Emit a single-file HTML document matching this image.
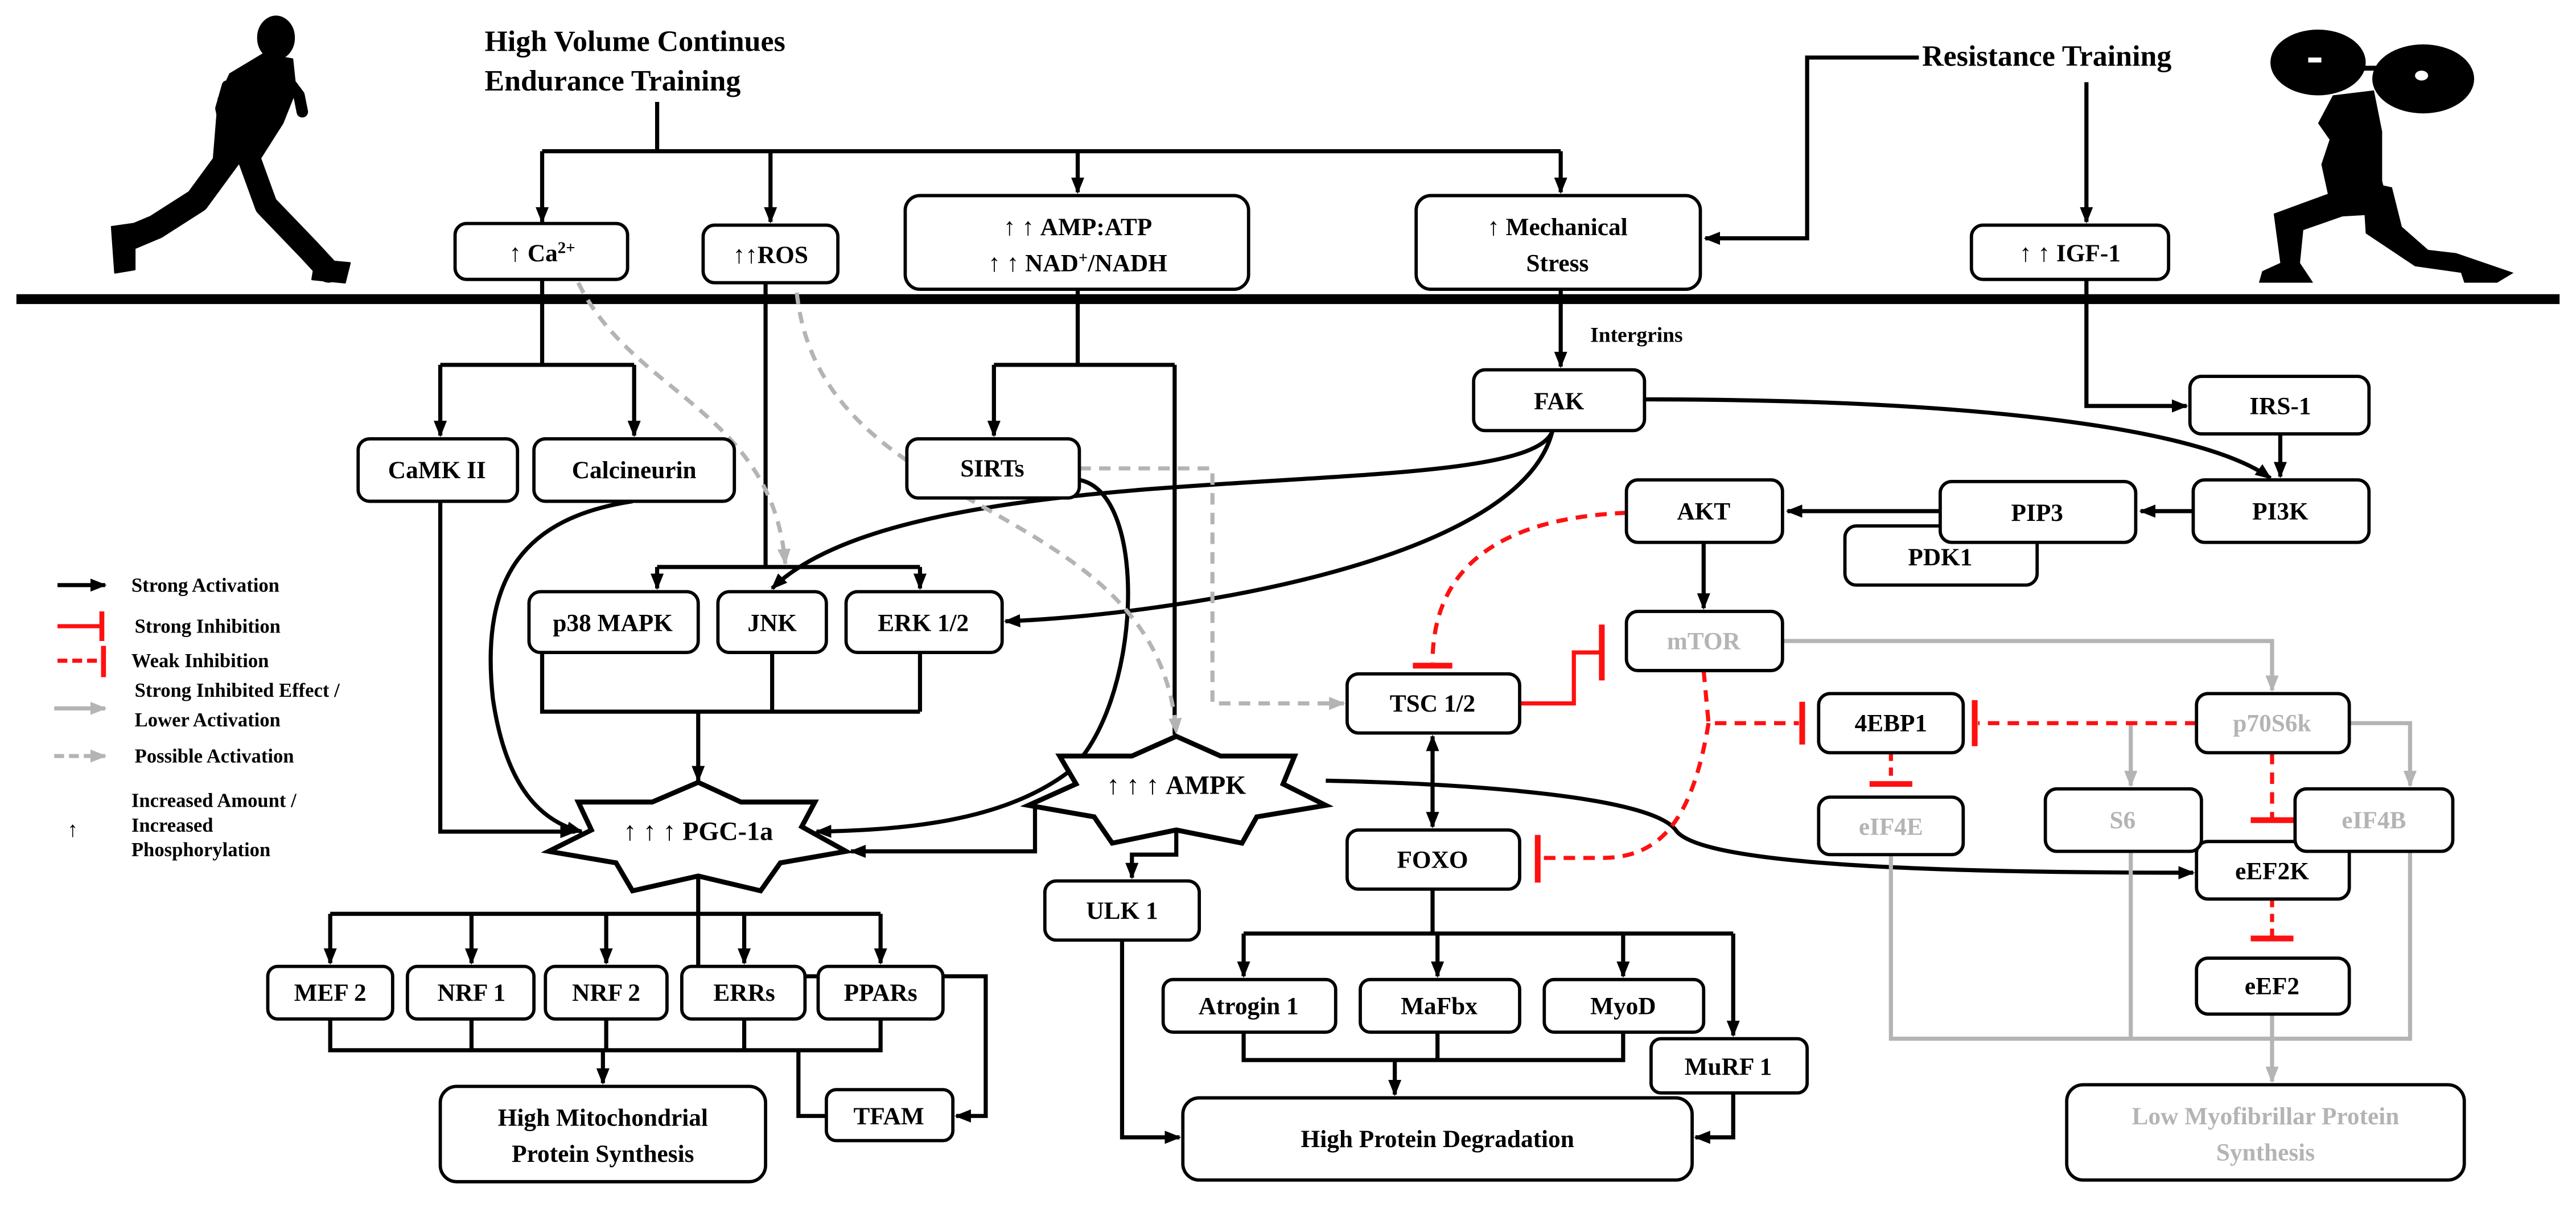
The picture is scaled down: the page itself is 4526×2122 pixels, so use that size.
<!DOCTYPE html>
<html><head><meta charset="utf-8"><style>
html,body{margin:0;padding:0;background:#fff;}
svg{display:block;}
text{font-family:"Liberation Serif",serif;font-weight:bold;}
</style></head><body>
<svg width="4526" height="2122" viewBox="0 0 1568 735" preserveAspectRatio="none" xmlns="http://www.w3.org/2000/svg">
<defs>
<marker id="a" markerUnits="userSpaceOnUse" markerWidth="10" markerHeight="10" refX="9" refY="5" orient="auto"><path d="M0,1 L10,5 L0,9 z" fill="#000"/></marker>
<marker id="g" markerUnits="userSpaceOnUse" markerWidth="10" markerHeight="10" refX="9" refY="5" orient="auto"><path d="M0,1 L10,5 L0,9 z" fill="#b4b4b4"/></marker>
</defs>
<rect width="1568" height="735" fill="#fff"/>

<!-- runner silhouette -->
<g fill="#000" stroke="#000" stroke-linecap="round" stroke-linejoin="round">
<ellipse cx="168" cy="23" rx="11" ry="13"/>
<polygon points="160,33 178,36 180,55 172,75 158,97 130,97 133,60 140,45"/>
<polyline points="138,52 134,66 137,80" fill="none" stroke-width="6"/>
<polyline points="176,50 182,58 184,68" fill="none" stroke-width="7"/>
<polyline points="142,92 120,122 95,138 76,146" fill="none" stroke-width="15"/>
<polyline points="150,92 162,125 188,152 200,165" fill="none" stroke-width="14"/>
<polygon points="68,138 82,136 82,164 70,166"/>
<polygon points="192,158 213,160 210,172 190,170"/>
</g>

<!-- weightlifter silhouette -->
<g fill="#000">
<ellipse cx="1411" cy="38" rx="29" ry="20"/>
<ellipse cx="1475" cy="48" rx="31" ry="21"/>
<ellipse cx="1474" cy="46" rx="4" ry="3" fill="#fff"/>
<rect x="1405" y="35" width="8" height="3" fill="#fff"/>
<rect x="1435" y="40" width="20" height="3"/>
<polygon points="1420,58 1445,55 1450,80 1450,110 1455,130 1420,132 1413,100 1418,85 1411,75"/>
<polygon points="1425,115 1445,125 1402,140 1400,160 1408,172 1375,172 1377,165 1388,160 1384,130"/>
<polygon points="1438,110 1456,114 1462,138 1478,152 1495,154 1530,166 1520,172 1500,172 1498,166 1470,162 1440,142"/>
</g>

<!-- membrane line -->
<rect x="10" y="179" width="1548" height="6" fill="#000"/>

<text x="295" y="31" font-size="18">High Volume Continues</text>
<text x="295" y="55" font-size="18">Endurance Training</text>
<text x="1170" y="40" font-size="18">Resistance Training</text>
<text x="968" y="208" font-size="13">Intergrins</text>

<g fill="none" stroke="#000" stroke-width="2.5">
<path d="M400,62 L400,92"/>
<path d="M330,92 L950,92"/>
<path d="M330,92 L330,135" marker-end="url(#a)"/>
<path d="M469,92 L469,135" marker-end="url(#a)"/>
<path d="M656,92 L656,117" marker-end="url(#a)"/>
<path d="M950,92 L950,117" marker-end="url(#a)"/>
<path d="M1168,35 L1100,35 L1100,145 L1038,145" marker-end="url(#a)"/>
<path d="M1270,50 L1270,135" marker-end="url(#a)"/>
<path d="M1270,170 L1270,247 L1331,247" marker-end="url(#a)"/>
<path d="M1388,264 L1388,290" marker-end="url(#a)"/>
<path d="M1335,311 L1303,311" marker-end="url(#a)"/>
<path d="M1181,311 L1088,311" marker-end="url(#a)"/>
<path d="M1037,330 L1037,370" marker-end="url(#a)"/>
<path d="M950,176 L950,223" marker-end="url(#a)"/>
<path d="M1001,243 C1200,243 1340,260 1382,291" marker-end="url(#a)"/>
<path d="M945,262 C930,310 560,270 470,358" marker-end="url(#a)"/>
<path d="M945,262 C925,345 700,375 612,378" marker-end="url(#a)"/>
<path d="M330,170 L330,222"/>
<path d="M268,222 L386,222"/>
<path d="M268,222 L268,265" marker-end="url(#a)"/>
<path d="M386,222 L386,265" marker-end="url(#a)"/>
<path d="M268,305 L268,506 L350,506" marker-end="url(#a)"/>
<path d="M385,305 C320,315 292,350 300,425 C308,480 330,500 354,506" marker-end="url(#a)"/>
<path d="M466,172 L466,345"/>
<path d="M400,345 L560,345"/>
<path d="M400,345 L400,358" marker-end="url(#a)"/>
<path d="M560,345 L560,358" marker-end="url(#a)"/>
<path d="M322,378 L330,378 L330,433 L560,433"/>
<path d="M470,397 L470,433"/>
<path d="M560,397 L560,433"/>
<path d="M425,433 L425,475" marker-end="url(#a)"/>
<path d="M656,176 L656,222"/>
<path d="M605,222 L715,222"/>
<path d="M605,222 L605,265" marker-end="url(#a)"/>
<path d="M715,222 L715,447"/>
<path d="M657,292 C700,300 695,430 650,470 C610,500 550,505 497,506" marker-end="url(#a)"/>
<path d="M630,490 L630,518 L518,518" marker-end="url(#a)"/>
<path d="M716,505 L716,520 L689,520 L689,534" marker-end="url(#a)"/>
<path d="M807,475 C900,477 1005,485 1020,505 C1035,528 1200,531 1335,531" marker-end="url(#a)"/>
<path d="M683,572 L683,692 L718,692" marker-end="url(#a)"/>
<path d="M425,524 L425,594 L600,594 L600,679 L582,679" marker-end="url(#a)"/>
<path d="M201,556 L536,556"/>
<path d="M201,556 L201,586" marker-end="url(#a)"/>
<path d="M287,556 L287,586" marker-end="url(#a)"/>
<path d="M369,556 L369,586" marker-end="url(#a)"/>
<path d="M453,556 L453,586" marker-end="url(#a)"/>
<path d="M536,556 L536,586" marker-end="url(#a)"/>
<path d="M201,620 L201,639 L536,639 L536,620"/>
<path d="M287,620 L287,639"/><path d="M369,620 L369,639"/><path d="M453,620 L453,639"/>
<path d="M367,639 L367,659" marker-end="url(#a)"/>
<path d="M486,639 L486,679 L503,679"/>
<path d="M872,470 L872,448" marker-end="url(#a)"/>
<path d="M872,470 L872,503" marker-end="url(#a)"/>
<path d="M872,541 L872,568"/>
<path d="M757,568 L1055,568"/>
<path d="M757,568 L757,594" marker-end="url(#a)"/>
<path d="M875,568 L875,594" marker-end="url(#a)"/>
<path d="M988,568 L988,594" marker-end="url(#a)"/>
<path d="M1055,568 L1055,630" marker-end="url(#a)"/>
<path d="M757,628 L757,645 L988,645 L988,628"/>
<path d="M875,628 L875,645"/>
<path d="M849,645 L849,666" marker-end="url(#a)"/>
<path d="M1055,665 L1055,692 L1032,692" marker-end="url(#a)"/>
</g>

<g fill="none" stroke="#b4b4b4" stroke-width="2.5" stroke-dasharray="7,5">
<path d="M352,172 C385,240 470,250 478,343" marker-end="url(#g)"/>
<path d="M485,178 C500,320 705,300 716,446" marker-end="url(#g)"/>
<path d="M657,285 L738,285 L738,428 L818,428" marker-end="url(#g)"/>
</g>
<g fill="none" stroke="#b4b4b4" stroke-width="2.5">
<path d="M1085,390 L1383,390 L1383,420" marker-end="url(#g)"/>
<path d="M1297,440 L1297,478" marker-end="url(#g)"/>
<path d="M1430,440 L1467,440 L1467,478" marker-end="url(#g)"/>
<path d="M1151,520 L1151,632 L1467,632 L1467,518"/>
<path d="M1297,518 L1297,632"/>
<path d="M1383,617 L1383,658" marker-end="url(#g)"/>
</g>

<g fill="none" stroke="#ff1010" stroke-width="2.5">
<path d="M925,428 L958,428 L958,397 L975,397"/>
<path d="M975,380 L975,414" stroke-width="3.5"/>
<path d="M990,312 C920,315 872,340 872,403" stroke-dasharray="7,5"/>
<path d="M860,405 L884,405" stroke-width="3.5"/>
<path d="M1037,408 L1040,440 L1095,440" stroke-dasharray="7,5"/>
<path d="M1040,440 C1030,500 1010,522 975,522 L937,522" stroke-dasharray="7,5"/>
<path d="M1097,427 L1097,453" stroke-width="3.5"/>
<path d="M936,508 L936,537" stroke-width="3.5"/>
<path d="M1337,440 L1204,440" stroke-dasharray="7,5"/>
<path d="M1202,426 L1202,454" stroke-width="3.5"/>
<path d="M1151,458 L1151,476" stroke-dasharray="5,4"/>
<path d="M1138,477 L1164,477" stroke-width="3.5"/>
<path d="M1383,458 L1383,498" stroke-dasharray="7,5"/>
<path d="M1370,499 L1396,499" stroke-width="3.5"/>
<path d="M1383,547 L1383,570" stroke-dasharray="5,4"/>
<path d="M1370,571 L1396,571" stroke-width="3.5"/>
</g>

<polygon points="425,476 451,488 496,488 488,503 515,518 475,525 463,542 425,533 385,542 375,525 334,518 360,505 352,488 397,488" fill="#fff" stroke="#000" stroke-width="3"/>
<text x="425" y="511" font-size="16" text-anchor="middle" font-weight="normal">↑ ↑ ↑ <tspan font-weight="bold">PGC-1a</tspan></text>
<polygon points="716,448 743,460 788,460 781,477 807,490 765,497 756,513 716,505 677,513 666,497 626,490 655,477 645,460 689,460" fill="#fff" stroke="#000" stroke-width="3"/>
<text x="716" y="483" font-size="16" text-anchor="middle" font-weight="normal">↑ ↑ ↑ <tspan font-weight="bold">AMPK</tspan></text>

<g fill="#fff" stroke="#000" stroke-width="2">
<rect x="277" y="136" width="105" height="34" rx="7"/>
<rect x="428" y="137" width="82" height="35" rx="7"/>
<rect x="551" y="119" width="209" height="57" rx="9"/>
<rect x="862" y="119" width="173" height="57" rx="9"/>
<rect x="1200" y="137" width="120" height="33" rx="7"/>
<rect x="218" y="267" width="97" height="38" rx="7"/>
<rect x="325" y="267" width="122" height="38" rx="7"/>
<rect x="552" y="267" width="105" height="36" rx="7"/>
<rect x="897" y="225" width="104" height="37" rx="7"/>
<rect x="1333" y="229" width="109" height="35" rx="7"/>
<rect x="1335" y="292" width="107" height="38" rx="7"/>
<rect x="1123" y="320" width="117" height="36" rx="7"/>
<rect x="1181" y="293" width="119" height="37" rx="7"/>
<rect x="990" y="292" width="95" height="38" rx="7"/>
<rect x="322" y="360" width="103" height="37" rx="7"/>
<rect x="437" y="360" width="66" height="37" rx="7"/>
<rect x="515" y="360" width="95" height="37" rx="7"/>
<rect x="820" y="410" width="105" height="36" rx="7"/>
<rect x="1107" y="422" width="88" height="36" rx="7"/>
<rect x="820" y="505" width="105" height="36" rx="7"/>
<rect x="1337" y="512" width="93" height="35" rx="7"/>
<rect x="1337" y="583" width="93" height="34" rx="7"/>
<rect x="636" y="536" width="94" height="36" rx="7"/>
<rect x="163" y="588" width="76" height="32" rx="6"/>
<rect x="248" y="588" width="77" height="32" rx="6"/>
<rect x="332" y="588" width="74" height="32" rx="6"/>
<rect x="415" y="588" width="75" height="32" rx="6"/>
<rect x="498" y="588" width="76" height="32" rx="6"/>
<rect x="503" y="663" width="77" height="31" rx="6"/>
<rect x="268" y="661" width="198" height="58" rx="10"/>
<rect x="708" y="596" width="105" height="32" rx="6"/>
<rect x="828" y="596" width="97" height="32" rx="6"/>
<rect x="940" y="596" width="97" height="32" rx="6"/>
<rect x="1005" y="632" width="95" height="33" rx="6"/>
<rect x="720" y="668" width="310" height="50" rx="10"/>
<rect x="990" y="372" width="95" height="36" rx="7"/>
<rect x="1337" y="422" width="93" height="36" rx="7"/>
<rect x="1107" y="485" width="88" height="35" rx="7"/>
<rect x="1245" y="480" width="95" height="38" rx="7"/>
<rect x="1397" y="480" width="96" height="38" rx="7"/>
<rect x="1258" y="660" width="242" height="58" rx="10"/>
</g>

<g font-size="15" text-anchor="middle" fill="#000">
<text x="330" y="159"><tspan font-weight="normal">↑ </tspan>Ca<tspan font-size="10" dy="-5">2+</tspan></text>
<text x="469" y="160"><tspan font-weight="normal">↑↑</tspan>ROS</text>
<text x="656" y="143"><tspan font-weight="normal">↑ ↑ </tspan>AMP:ATP</text>
<text x="656" y="165"><tspan font-weight="normal">↑ ↑ </tspan>NAD<tspan font-size="10" dy="-5">+</tspan><tspan dy="5">/NADH</tspan></text>
<text x="948" y="143"><tspan font-weight="normal">↑ </tspan>Mechanical</text>
<text x="948" y="165">Stress</text>
<text x="1260" y="159"><tspan font-weight="normal">↑ ↑ </tspan>IGF-1</text>
<text x="266" y="291">CaMK II</text>
<text x="386" y="291">Calcineurin</text>
<text x="604" y="290">SIRTs</text>
<text x="949" y="249">FAK</text>
<text x="1388" y="252">IRS-1</text>
<text x="1388" y="316">PI3K</text>
<text x="1181" y="344">PDK1</text>
<text x="1240" y="317">PIP3</text>
<text x="1037" y="316">AKT</text>
<text x="373" y="384">p38 MAPK</text>
<text x="470" y="384">JNK</text>
<text x="562" y="384">ERK 1/2</text>
<text x="872" y="433">TSC 1/2</text>
<text x="1151" y="445">4EBP1</text>
<text x="872" y="528">FOXO</text>
<text x="1383" y="535">eEF2K</text>
<text x="1383" y="605">eEF2</text>
<text x="683" y="559">ULK 1</text>
<text x="201" y="609">MEF 2</text>
<text x="287" y="609">NRF 1</text>
<text x="369" y="609">NRF 2</text>
<text x="453" y="609">ERRs</text>
<text x="536" y="609">PPARs</text>
<text x="541" y="684">TFAM</text>
<text x="367" y="685">High Mitochondrial</text>
<text x="367" y="707">Protein Synthesis</text>
<text x="760" y="617">Atrogin 1</text>
<text x="876" y="617">MaFbx</text>
<text x="988" y="617">MyoD</text>
<text x="1052" y="654">MuRF 1</text>
<text x="875" y="698">High Protein Degradation</text>
<g fill="#b4b4b4">
<text x="1037" y="395">mTOR</text>
<text x="1383" y="445">p70S6k</text>
<text x="1151" y="508">eIF4E</text>
<text x="1292" y="504">S6</text>
<text x="1445" y="504">eIF4B</text>
<text x="1379" y="684">Low Myofibrillar Protein</text>
<text x="1379" y="706">Synthesis</text>
</g>
</g>

<g fill="none" stroke-width="2.5">
<path d="M35,356 L64,356" stroke="#000" marker-end="url(#a)"/>
<path d="M35,381 L62,381" stroke="#ff1010"/>
<path d="M62,372 L62,390" stroke="#ff1010" stroke-width="3"/>
<path d="M35,402 L62,402" stroke="#ff1010" stroke-dasharray="6,3"/>
<path d="M63,393 L63,412" stroke="#ff1010" stroke-width="3"/>
<path d="M33,431 L64,431" stroke="#b4b4b4" marker-end="url(#g)"/>
<path d="M33,460 L64,460" stroke="#b4b4b4" stroke-dasharray="6,3" marker-end="url(#g)"/>
</g>
<g font-size="12" fill="#000">
<text x="80" y="360">Strong Activation</text>
<text x="82" y="385">Strong Inhibition</text>
<text x="80" y="406">Weak Inhibition</text>
<text x="82" y="424">Strong Inhibited Effect /</text>
<text x="82" y="442">Lower Activation</text>
<text x="82" y="464">Possible Activation</text>
<text x="80" y="491">Increased Amount /</text>
<text x="80" y="506">Increased</text>
<text x="80" y="521">Phosphorylation</text>
<text x="41" y="509" font-weight="normal" font-size="13">↑</text>
</g>
</svg>
</body></html>
